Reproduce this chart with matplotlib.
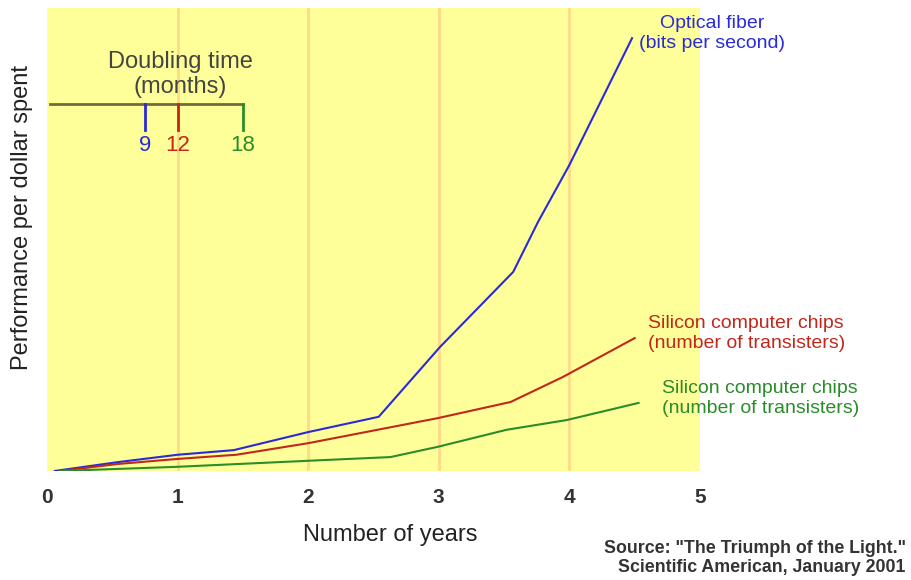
import numpy as np
import matplotlib.pyplot as plt

plt.rcParams['font.family'] = ['Liberation Sans', 'DejaVu Sans']

# values (y in arbitrary "performance" units, 0..100)
fiber_x = [0.06, 0.54, 1.0, 1.43, 2.0, 2.54, 3.01, 3.57, 3.76, 4.0, 4.48]
fiber_y = [0, 1.9, 3.5, 4.5, 8.4, 11.7, 26.8, 43.0, 53.8, 66.1, 93.5]

chips_red_x = [0.1, 0.54, 1.0, 1.45, 2.0, 2.99, 3.55, 3.95, 4.5]
chips_red_y = [0, 1.5, 2.6, 3.5, 6.0, 11.4, 14.9, 20.3, 28.7]

chips_green_x = [0.1, 1.0, 2.0, 2.63, 2.99, 3.52, 3.98, 4.53]
chips_green_y = [0, 0.9, 2.2, 3.0, 5.2, 8.9, 11.0, 14.7]

doubling_months = [9, 12, 18]
doubling_colors = ['#2a2ad8', '#c0281c', '#2a8c2a']
year_ticks = [0, 1, 2, 3, 4, 5]

fig = plt.figure(figsize=(9.12, 5.8), dpi=100)
ax = fig.add_axes([0.0515, 0.188, 0.716, 0.798])
ax.set_facecolor('#ffff99')
ax.set_xlim(0, 5)
ax.set_ylim(0, 100)

for g in year_ticks[1:-1]:
    ax.axvline(g, color='#ffd98a', lw=2, zorder=1)

ax.plot(fiber_x, fiber_y, color='#2a2ad8', lw=1.5, zorder=3)
ax.plot(chips_red_x, chips_red_y, color='#c0281c', lw=1.5, zorder=3)
ax.plot(chips_green_x, chips_green_y, color='#2a8c2a', lw=1.5, zorder=3)

# doubling time scale (months shown as years on the x axis)
y0 = 79.3
ax.plot([0.02, max(doubling_months) / 12], [y0, y0], color='#6e6e3c', lw=2, zorder=3)
for m, c in zip(doubling_months, doubling_colors):
    ax.plot([m / 12, m / 12], [y0, y0 - 5.6], color=c, lw=2, zorder=3)
    ax.text(m / 12, y0 - 9.0, str(m), color=c, fontsize=16, ha='center', va='center')
ax.text(1.02, 88.3, 'Doubling time', color='#444444', fontsize=17, ha='center', va='center')
ax.text(1.02, 83.0, '(months)', color='#444444', fontsize=17, ha='center', va='center')

for s in ax.spines.values():
    s.set_visible(False)
ax.set_yticks([])
ax.set_xticks(year_ticks)
ax.set_xticklabels([str(t) for t in year_ticks], fontsize=15, color='#333333', fontweight='bold')
ax.tick_params(axis='x', length=0, pad=12)
ax.set_xlabel('Number of years', fontsize=17, color='#222222')
ax.xaxis.set_label_coords(0.525, -0.115)

fig.text(0.024, 0.625, 'Performance per dollar spent', rotation=90, fontsize=17,
         color='#222222', ha='center', va='center')

fig.text(0.781, 0.942, 'Optical fiber\n(bits per second)', color='#2a2ad8',
         fontsize=14, ha='center', va='center', linespacing=1.2)
fig.text(0.711, 0.425, 'Silicon computer chips\n(number of transisters)', color='#c0281c',
         fontsize=14, ha='left', va='center', linespacing=1.2)
fig.text(0.726, 0.313, 'Silicon computer chips\n(number of transisters)', color='#2a8c2a',
         fontsize=14, ha='left', va='center', linespacing=1.2)
fig.text(0.993, 0.038, 'Source: "The Triumph of the Light."\nScientific American, January 2001',
         color='#333333', fontsize=12.8, fontweight='bold', ha='right', va='center',
         linespacing=1.15)

fig.savefig('out.png', dpi=100)
